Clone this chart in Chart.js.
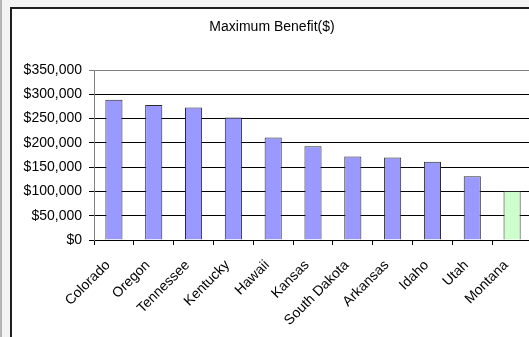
<!DOCTYPE html>
<html>
<head>
<meta charset="utf-8">
<script src="https://cdn.jsdelivr.net/npm/chart.js@4/dist/chart.umd.min.js"></script>
<style>
  html, body { margin: 0; padding: 0; width: 529px; height: 337px; overflow: hidden; background: #f3f3f3; }
  #edge { position: absolute; left: 0; top: 0; width: 2px; height: 337px; background: #b4b4b4; }
  #frame { position: absolute; left: 10px; top: 7px; width: 560px; height: 360px;
           border-left: 2px solid #1e1e1e; border-top: 2px solid #1e1e1e; background: #fff; }
  #chart { position: absolute; left: 0; top: 0; }
</style>
</head>
<body>
<div id="edge"></div>
<div id="frame"><canvas id="chart" width="540" height="340"></canvas></div>
<script>
// Maximum benefit by state, in dollars
const states = ['Colorado', 'Oregon', 'Tennessee', 'Kentucky', 'Hawaii', 'Kansas',
                'South Dakota', 'Arkansas', 'Idaho', 'Utah', 'Montana'];
const benefits = [289000, 278000, 273000, 252000, 211000, 193000,
                  172000, 170000, 161000, 131000, 101000];
const yTicks = [0, 50000, 100000, 150000, 200000, 250000, 300000, 350000];

const highlightState = 'Montana';
const fillColors = states.map(s => s === highlightState ? '#ccffcc' : '#9999ff');

const FONT = 'Liberation Sans, Arial, sans-serif';
const money = v => '$' + v.toLocaleString('en-US');

new Chart(document.getElementById('chart'), {
  type: 'bar',
  data: {
    labels: states,
    datasets: [{
      label: 'Maximum Benefit($)',
      data: benefits,
      backgroundColor: fillColors,
      borderColor: '#2b2b2b',
      borderWidth: 1,
      barPercentage: 0.43,
      categoryPercentage: 1
    }]
  },
  options: {
    responsive: false,
    animation: false,
    devicePixelRatio: 1,
    layout: { padding: { left: 0, right: 20, top: 0, bottom: 0 } },
    plugins: {
      legend: { display: false },
      tooltip: { enabled: false },
      title: {
        display: true,
        text: 'Maximum Benefit($)',
        color: '#000',
        font: { family: FONT, size: 14, weight: 'normal' },
        padding: { top: 9.6, bottom: 34.6 }
      }
    },
    scales: {
      x: {
        afterFit: s => { s.height = 109; },
        grid: { offset: true, drawOnChartArea: false, tickLength: 5, color: '#000', tickColor: '#000' },
        border: { color: '#000', width: 1 },
        ticks: {
          autoSkip: false, minRotation: 45, maxRotation: 45, padding: 12, labelOffset: -6,
          color: '#000', font: { family: FONT, size: 14 }
        }
      },
      y: {
        min: 0, max: 350000,
        afterFit: s => { s.width = 82; },
        afterBuildTicks: s => { s.ticks = yTicks.map(v => ({ value: v })); },
        grid: {
          tickLength: 5,
          color: c => c.tick && c.tick.value === 350000 ? '#808080' : '#000',
          tickColor: c => c.tick && c.tick.value === 350000 ? '#808080' : '#000'
        },
        border: { color: '#808080', width: 1 },
        ticks: {
          padding: 7, color: '#000', font: { family: FONT, size: 14 },
          callback: v => money(v)
        }
      }
    }
  }
});
</script>
</body>
</html>
